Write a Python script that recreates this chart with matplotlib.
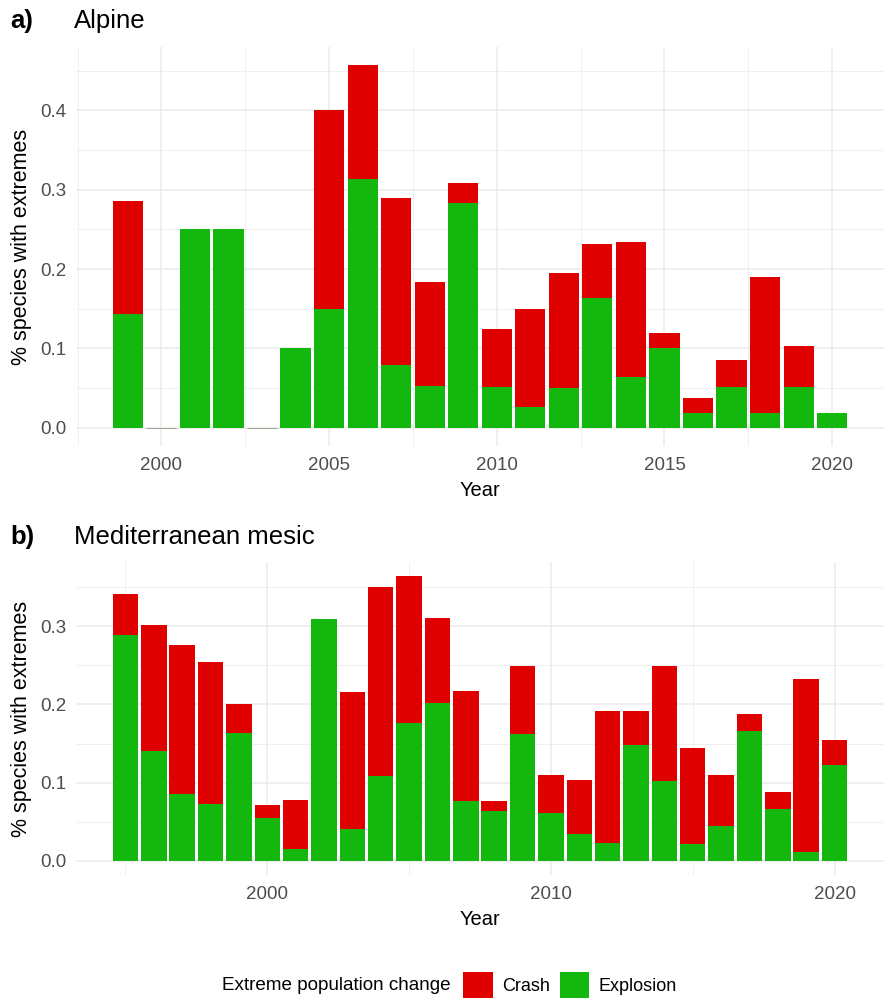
import numpy as np
import matplotlib
matplotlib.use("Agg")
from matplotlib import pyplot as plt
from matplotlib.patches import Patch
from matplotlib.ticker import MultipleLocator

plt.rcParams['font.family'] = ['Liberation Sans', 'DejaVu Sans']

# Alpine: share of species with extreme population change per year
alpine_years = np.arange(1999, 2021)
alpine_explosion = [0.143, 0.0, 0.25, 0.25, 0.0, 0.10, 0.150, 0.314, 0.079, 0.053, 0.283,
                    0.051, 0.026, 0.050, 0.163, 0.064, 0.101, 0.019, 0.052, 0.018, 0.052, 0.018]
alpine_crash = [0.143, 0.0, 0.0, 0.0, 0.0, 0.0, 0.250, 0.143, 0.211, 0.131, 0.025,
                0.074, 0.124, 0.145, 0.069, 0.170, 0.019, 0.018, 0.034, 0.172, 0.051, 0.0]

# Mediterranean mesic
med_years = np.arange(1995, 2021)
med_explosion = [0.289, 0.140, 0.085, 0.073, 0.164, 0.055, 0.015, 0.309, 0.041, 0.108, 0.176,
                 0.202, 0.077, 0.064, 0.162, 0.061, 0.035, 0.023, 0.148, 0.102, 0.022, 0.045,
                 0.166, 0.066, 0.011, 0.122]
med_crash = [0.052, 0.162, 0.191, 0.181, 0.036, 0.017, 0.063, 0.0, 0.175, 0.242, 0.188,
             0.108, 0.140, 0.012, 0.087, 0.049, 0.069, 0.169, 0.044, 0.147, 0.122, 0.065,
             0.022, 0.022, 0.221, 0.033]

CRASH = '#DF0000'
EXPLOSION = '#13B70E'
GRID = '#EBEBEB'
TICKCOL = '#4D4D4D'


def stacked_panel(ax, years, explosion, crash, xmajor, ylim, ymax_tick):
    explosion = np.asarray(explosion)
    crash = np.asarray(crash)
    ax.bar(years, explosion, 0.9, color=EXPLOSION, linewidth=0, zorder=2)
    ax.bar(years, crash, 0.9, bottom=explosion, color=CRASH, linewidth=0, zorder=2)
    # years with no extremes still get a flat bar at zero
    zero = (explosion + crash) == 0
    ax.bar(years[zero], 0, 0.9, color=EXPLOSION, edgecolor='#8a9a80', linewidth=0.6, zorder=2)

    pad = 0.05 * (years[-1] - years[0] + 0.9)
    ax.set_xlim(years[0] - 0.45 - pad, years[-1] + 0.45 + pad)
    ax.set_ylim(*ylim)
    ax.xaxis.set_major_locator(MultipleLocator(xmajor))
    ax.xaxis.set_minor_locator(MultipleLocator(xmajor / 2))
    ticks = np.arange(0, ymax_tick + 0.001, 0.1)
    ax.set_yticks(ticks)
    ax.set_yticklabels(['%.1f' % v for v in ticks])
    ax.yaxis.set_minor_locator(MultipleLocator(0.05))
    ax.grid(which='major', color=GRID, linewidth=1.1, zorder=0)
    ax.grid(which='minor', color=GRID, linewidth=0.55, zorder=0)
    ax.set_axisbelow(True)
    for s in ax.spines.values():
        s.set_visible(False)
    ax.tick_params(which='both', length=0, labelsize=13.5, colors=TICKCOL)
    ax.tick_params(axis='y', pad=7)
    ax.tick_params(axis='x', pad=8)
    ax.set_xlabel('Year', fontsize=14.5, labelpad=5)
    ax.set_ylabel('% species with extremes', fontsize=15.5, labelpad=6)


fig = plt.figure(figsize=(8.85, 10.01), dpi=100)
W, H = 885, 1001

ax1 = fig.add_axes([76 / W, 1 - 446 / H, 808 / W, 399 / H])
stacked_panel(ax1, alpine_years, alpine_explosion, alpine_crash, 5, (-0.023, 0.480), 0.4)

ax2 = fig.add_axes([76 / W, 1 - 875 / H, 808 / W, 313 / H])
stacked_panel(ax2, med_years, med_explosion, med_crash, 10, (-0.018, 0.382), 0.3)

fig.text(10 / W, 1 - 21 / H, 'a)', fontsize=18.5, fontweight='bold', va='center')
fig.text(74 / W, 1 - 21 / H, 'Alpine', fontsize=18.5, va='center')
fig.text(10 / W, 1 - 537 / H, 'b)', fontsize=18.5, fontweight='bold', va='center')
fig.text(74 / W, 1 - 537 / H, 'Mediterranean mesic', fontsize=18.5, va='center')

# legend along the bottom
fig.text(222 / W, 1 - 986 / H, 'Extreme population change', fontsize=13.6, va='center')
handles = [Patch(facecolor=CRASH, label='Crash'), Patch(facecolor=EXPLOSION, label='Explosion')]
fig.legend(handles=handles, loc='center left', bbox_to_anchor=(463 / W, 1 - 985 / H),
           ncol=2, frameon=False, fontsize=13, handlelength=1.65, handleheight=1.85,
           handletextpad=0.5, columnspacing=0.55, borderpad=0, borderaxespad=0)

fig.savefig('out.png', dpi=100, facecolor='white')
